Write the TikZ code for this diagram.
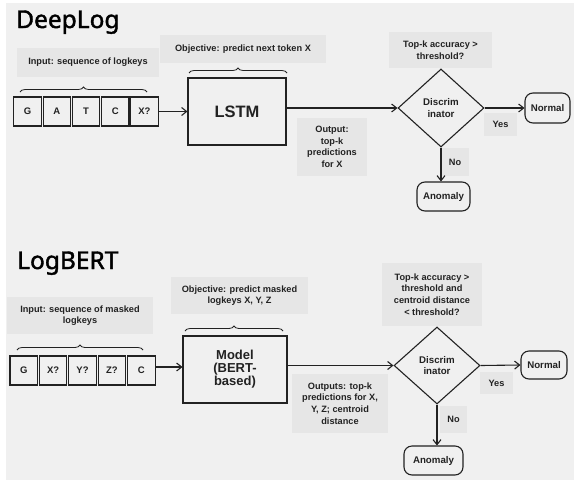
\documentclass[tikz,border=0pt]{standalone}
\usepackage{fontspec}
\setmainfont{Liberation Sans}
\newfontfamily\titlefont[FakeBold=1.6]{Noto Sans}
\usetikzlibrary{arrows.meta,shapes.geometric,decorations.pathreplacing}
\definecolor{bg}{HTML}{F0F0F0}
\definecolor{lblfill}{HTML}{E6E6E6}
\definecolor{ink}{HTML}{222222}
\begin{document}
\begin{tikzpicture}[x=1pt,y=-1pt,
  tok/.style={draw=ink, line width=1.1pt, minimum width=27.5pt, minimum height=29pt, inner sep=0pt, font=\bfseries\fontsize{9.5}{10}\selectfont, text=ink},
  proc/.style={draw=ink, line width=1.1pt, inner sep=0pt, align=center, text=ink},
  lbl/.style={fill=lblfill, inner sep=0pt, align=center, font=\bfseries\fontsize{9.2}{11.6}\selectfont, text=ink},
  term/.style={draw=ink, line width=1.1pt, rounded corners=8pt, inner sep=0pt, font=\bfseries\fontsize{9.7}{10}\selectfont, text=ink},
  dec/.style={draw=ink, diamond, line width=1.1pt, inner sep=0pt, align=center, font=\bfseries\fontsize{9.7}{11.5}\selectfont, text=ink},
  conn/.style={draw=ink, line width=1.1pt, -{Straight Barb[length=5pt,width=8pt]}},
  brc/.style={draw=ink, line width=0.8pt, decorate, decoration={brace, amplitude=5pt}},
  ttl/.style={anchor=base west, inner sep=0pt, font=\titlefont\fontsize{24.5}{28}\selectfont, text=black}
]
\useasboundingbox (0,0) rectangle (578,482);
\fill[white] (0,0) rectangle (578,482);
\fill[bg] (6,3) rectangle (574,480);

% ---------------- DeepLog ----------------
\node[ttl] (t1) at (16,28) {DeepLog};

\node[lbl, minimum width=142pt, minimum height=29pt] (in1) at (88,62.5) {Input: sequence of logkeys};
\node[lbl, minimum width=166pt, minimum height=28pt] (obj1) at (243,49) {Objective: predict next token X};
\node[lbl, minimum width=103pt, minimum height=36pt] (top1) at (440.5,50) {Top-k accuracy >\\threshold?};
\node[lbl, minimum width=70pt, minimum height=58pt] (out1) at (332,147) {Output:\\top-k\\predictions\\for X};
\node[lbl, minimum width=33pt, minimum height=23pt] (yes1) at (500.5,124.5) {Yes};
\node[lbl, minimum width=28pt, minimum height=28pt] (no1) at (455,162) {No};

\node[tok] (a1) at (27.6,111.5) {G};
\node[tok] (a2) at (56.8,111.5) {A};
\node[tok] (a3) at (86,111.5) {T};
\node[tok] (a4) at (115.2,111.5) {C};
\node[tok] (a5) at (144.4,111.5) {X?};

\node[proc, minimum width=98pt, minimum height=67pt, font=\bfseries\fontsize{16.5}{18}\selectfont] (lstm) at (237,111.5) {LSTM};
\node[dec, minimum width=86pt, minimum height=78pt] (d1) at (441,108) {Discrim\\inator};
\node[term, minimum width=45pt, minimum height=30pt] (n1) at (547.5,108) {Normal};
\node[term, minimum width=53pt, minimum height=29pt] (an1) at (443.5,196.5) {Anomaly};

\coordinate (b1s) at (20,92);
\coordinate (b1e) at (147,92);
\coordinate (b2s) at (189,73);
\coordinate (b2e) at (287,73);
\draw[brc] (b1s) -- (b1e);
\draw[brc] (b2s) -- (b2e);

\draw[conn] (a5.east) -- (lstm.west);
\draw[conn] (lstm.east |- d1.west) -- (d1.west);
\draw[conn] (d1.east) -- (n1.west);
\draw[conn] (d1.south) -- (d1.south |- an1.north);

% ---------------- LogBERT ----------------
\node[ttl] (t2) at (17,269) {LogBERT};

\node[lbl, minimum width=146pt, minimum height=37pt] (in2) at (80,315.5) {Input: sequence of masked\\logkeys};
\node[lbl, minimum width=137pt, minimum height=37pt] (obj2) at (239.5,295.5) {Objective: predict masked\\logkeys X, Y, Z};
\node[lbl, minimum width=100pt, minimum height=63pt] (top2) at (432,294.5) {Top-k accuracy >\\threshold and\\centroid distance\\< threshold?};
\node[lbl, minimum width=96pt, minimum height=59pt] (out2) at (340,403.5) {Outputs: top-k\\predictions for X,\\Y, Z; centroid\\distance};
\node[lbl, minimum width=33pt, minimum height=22pt] (yes2) at (496.5,383) {Yes};
\node[lbl, minimum width=27pt, minimum height=27pt] (no2) at (453.5,419.5) {No};

\node[tok] (c1) at (23.7,370.5) {G};
\node[tok] (c2) at (53.1,370.5) {X?};
\node[tok] (c3) at (82.5,370.5) {Y?};
\node[tok] (c4) at (111.9,370.5) {Z?};
\node[tok] (c5) at (141.3,370.5) {C};

\node[proc, minimum width=104pt, minimum height=67pt, font=\bfseries\fontsize{13}{13}\selectfont] (model) at (235,369.5) {Model\\(BERT-\\based)};
\node[dec, minimum width=86pt, minimum height=77pt] (d2) at (437,365.5) {Discrim\\inator};
\node[term, minimum width=46pt, minimum height=28pt] (n2) at (544,365) {Normal};
\node[term, minimum width=59pt, minimum height=29pt] (an2) at (433.5,460.5) {Anomaly};

\coordinate (b3s) at (17,350);
\coordinate (b3e) at (143,350);
\coordinate (b4s) at (185,331);
\coordinate (b4e) at (283,331);
\draw[brc] (b3s) -- (b3e);
\draw[brc] (b4s) -- (b4e);

\draw[conn] (c5.east |- 0,367) -- (model.west |- 0,367);
\draw[conn] (model.east |- d2.west) -- (d2.west);
\draw[conn] (d2.east) -- (n2.west);
\draw[conn] (d2.south) -- (d2.south |- an2.north);
\end{tikzpicture}
\end{document}
